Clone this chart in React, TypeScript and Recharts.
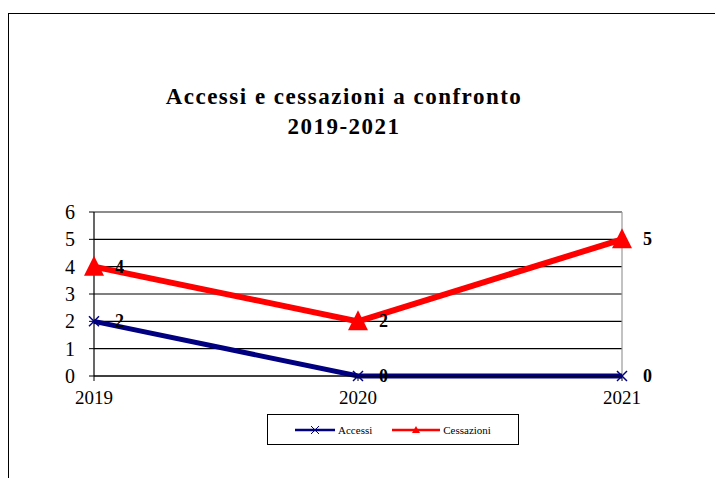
import React from 'react';
import { LineChart, Line, XAxis, YAxis, CartesianGrid, ReferenceLine, LabelList, Legend } from 'recharts';

const years = ['2019', '2020', '2021'];
const accessi = [2, 0, 0];
const cessazioni = [4, 2, 5];
const yTicks = [0, 1, 2, 3, 4, 5, 6];
const titleLines = ['Accessi e cessazioni a confronto', '2019-2021'];

const data = years.map((y, i) => ({ year: y, Accessi: accessi[i], Cessazioni: cessazioni[i] }));

const NAVY = '#000080';
const RED = '#ff0000';
const SERIF = "'Liberation Serif', 'Times New Roman', Tinos, 'Noto Serif', 'DejaVu Serif', serif";

const XDot = (props: any) => {
  const { cx, cy, key } = props;
  if (cx == null || cy == null) return null;
  const s = 5;
  return (
    <g key={key}>
      <line x1={cx - s} y1={cy - s} x2={cx + s} y2={cy + s} stroke={NAVY} strokeWidth={1.5} />
      <line x1={cx - s} y1={cy + s} x2={cx + s} y2={cy - s} stroke={NAVY} strokeWidth={1.5} />
    </g>
  );
};

const TriDot = (props: any) => {
  const { cx, cy, key } = props;
  if (cx == null || cy == null) return null;
  const w = 10, h = 11;
  return (
    <polygon key={key} points={`${cx},${cy - h} ${cx + w},${cy + h - 2} ${cx - w},${cy + h - 2}`} fill={RED} />
  );
};

const DataLabel = (props: any) => {
  const { x, y, value } = props;
  return (
    <text x={x + 21} y={y} dy={6} style={{ fontFamily: SERIF }} fontWeight="bold" fontSize={18} fill="#000">
      {value}
    </text>
  );
};

const LegendContent = () => (
  <div
    style={{
      width: 250,
      height: 29,
      border: '1px solid #000',
      display: 'flex',
      alignItems: 'center',
      justifyContent: 'center',
      gap: 20,
      fontFamily: SERIF,
      fontSize: 11,
      background: '#fff',
    }}
  >
    <div style={{ display: 'flex', alignItems: 'center' }}>
      <svg width={40} height={10}>
        <line x1={0} y1={5} x2={40} y2={5} stroke={NAVY} strokeWidth={2.5} />
        <line x1={16} y1={1} x2={24} y2={9} stroke={NAVY} strokeWidth={1} />
        <line x1={16} y1={9} x2={24} y2={1} stroke={NAVY} strokeWidth={1} />
      </svg>
      <span style={{ marginLeft: 3 }}>Accessi</span>
    </div>
    <div style={{ display: 'flex', alignItems: 'center' }}>
      <svg width={48} height={10}>
        <line x1={0} y1={5} x2={48} y2={5} stroke={RED} strokeWidth={2.5} />
        <polygon points="24,1 28,8 20,8" fill={RED} />
      </svg>
      <span style={{ marginLeft: 3 }}>Cessazioni</span>
    </div>
  </div>
);

export default function App() {
  return (
    <div style={{ position: 'absolute', left: 0, top: 0, width: 715, height: 478, background: '#fff', fontFamily: SERIF }}>
      <div
        style={{
          position: 'absolute',
          left: 8,
          top: 13,
          width: 707,
          height: 465,
          borderLeft: '1.5px solid #000',
          borderTop: '1.5px solid #000',
        }}
      />
      <div
        style={{
          position: 'absolute',
          left: 0,
          top: 82,
          width: 688,
          textAlign: 'center',
          fontFamily: SERIF,
          fontWeight: 'bold',
          fontSize: 23,
          letterSpacing: 1.5,
          lineHeight: '30px',
          color: '#000',
        }}
      >
        {titleLines.map((t) => (
          <div key={t}>{t}</div>
        ))}
      </div>
      <LineChart
        width={715}
        height={478}
        data={data}
        margin={{ top: 212, right: 93, bottom: 41, left: 64 }}
        style={{ position: 'absolute', left: 0, top: 0, fontFamily: SERIF }}
      >
        <CartesianGrid vertical={false} stroke="#000" strokeWidth={1.2} />
        <ReferenceLine y={6} stroke="#999" strokeWidth={1.2} />
        <ReferenceLine x="2021" stroke="#999" strokeWidth={1.2} />
        <XAxis
          dataKey="year"
          height={30}
          axisLine={{ stroke: '#000', strokeWidth: 1.2 }}
          tickLine={{ stroke: '#000' }}
          tickSize={5}
          tickMargin={10}
          tick={{ fontSize: 19, fill: '#000', style: { fontFamily: SERIF } }}
          interval={0}
        />
        <YAxis
          width={30}
          domain={[0, 6]}
          ticks={yTicks}
          axisLine={{ stroke: '#000', strokeWidth: 1.2 }}
          tickLine={{ stroke: '#000' }}
          tickSize={5}
          tickMargin={14}
          tick={{ fontSize: 20, fill: '#000', style: { fontFamily: SERIF } }}
          interval={0}
        />
        <Legend
          content={LegendContent}
          wrapperStyle={{ position: 'absolute', left: 267, top: 414, width: 252, height: 31 }}
        />
        <Line
          type="linear"
          dataKey="Accessi"
          stroke={NAVY}
          strokeWidth={5}
          dot={XDot}
          activeDot={false}
          isAnimationActive={false}
        >
          <LabelList dataKey="Accessi" content={DataLabel} />
        </Line>
        <Line
          type="linear"
          dataKey="Cessazioni"
          stroke={RED}
          strokeWidth={6}
          dot={TriDot}
          activeDot={false}
          isAnimationActive={false}
        >
          <LabelList dataKey="Cessazioni" content={DataLabel} />
        </Line>
      </LineChart>
    </div>
  );
}
